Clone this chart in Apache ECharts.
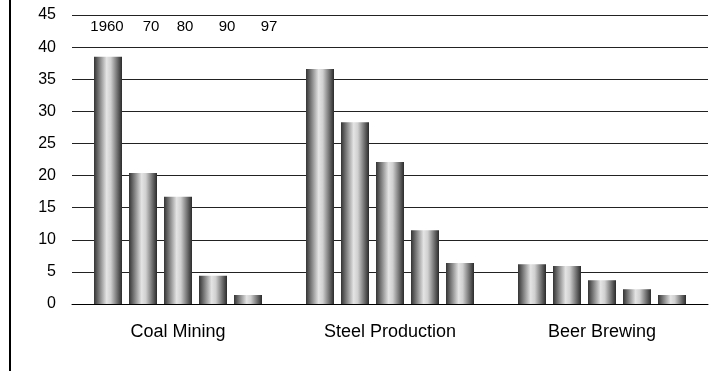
<!DOCTYPE html>
<html>
<head>
<meta charset="utf-8">
<script src="https://cdn.jsdelivr.net/npm/echarts@6/dist/echarts.min.js"></script>
<style>
  html, body { margin: 0; padding: 0; background: #fff; }
  #chart { width: 724px; height: 371px; }
</style>
</head>
<body>
<div id="chart"></div>
<script>
// industries on the x axis
var industries = ['Coal Mining', 'Steel Production', 'Beer Brewing'];
// one series per year
var years = ['1960', '70', '80', '90', '97'];
var y1960 = [38.5, 36.6, 6.2];
var y1970 = [20.4, 28.3, 5.9];
var y1980 = [16.7, 22.1, 3.7];
var y1990 = [4.4, 11.5, 2.3];
var y1997 = [1.4, 6.4, 1.4];
var yTicks = [0, 5, 10, 15, 20, 25, 30, 35, 40, 45];

var values = [y1960, y1970, y1980, y1990, y1997];
// where the year captions sit (x centres)
var captionX = [107, 151, 185, 227, 269];
var fontName = '"Liberation Sans", Arial, sans-serif';

var barFill = new echarts.graphic.LinearGradient(0, 0, 1, 0, [
    {offset: 0, color: '#333'},
    {offset: 0.45, color: '#e4e4e4'},
    {offset: 0.6, color: '#d0d0d0'},
    {offset: 1, color: '#2a2a2a'}
]);

var series = years.map(function (y, i) {
    return {
        name: y,
        type: 'bar',
        barWidth: 28,
        barGap: '25%',
        itemStyle: {color: barFill},
        data: values[i]
    };
});

var graphics = years.map(function (y, i) {
    return {
        type: 'text',
        x: captionX[i],
        y: 27,
        style: {
            text: y,
            align: 'center',
            verticalAlign: 'middle',
            fill: '#000',
            font: '15px ' + fontName
        }
    };
});
graphics.push({
    type: 'line',
    shape: {x1: 10, y1: 0, x2: 10, y2: 371},
    style: {stroke: '#000', lineWidth: 2}
});

var chart = echarts.init(document.getElementById('chart'));
chart.setOption({
    animation: false,
    textStyle: {fontFamily: fontName},
    grid: {left: 72, right: 16, top: 15, bottom: 67},
    xAxis: {
        type: 'category',
        data: industries,
        axisLine: {lineStyle: {color: '#000', width: 1}},
        axisTick: {show: false},
        axisLabel: {color: '#000', fontSize: 18, margin: 19}
    },
    yAxis: {
        type: 'value',
        min: yTicks[0],
        max: yTicks[yTicks.length - 1],
        interval: 5,
        axisLine: {show: false},
        axisTick: {show: false},
        axisLabel: {color: '#000', fontSize: 16, margin: 16},
        splitLine: {lineStyle: {color: '#222', width: 1}}
    },
    graphic: graphics,
    series: series
});
</script>
</body>
</html>
